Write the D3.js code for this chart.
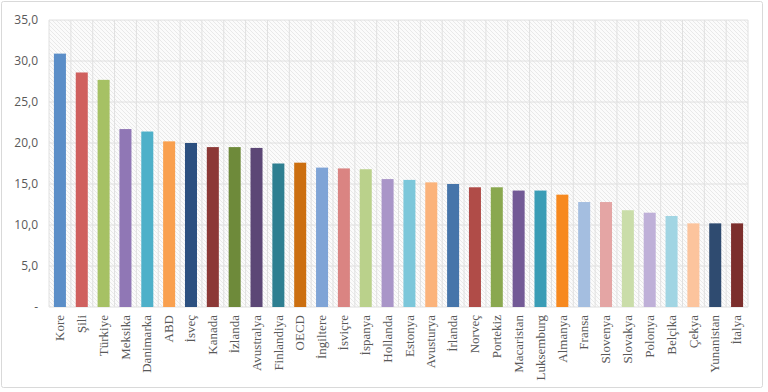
<!DOCTYPE html>
<html><head><meta charset="utf-8">
<script src="https://cdn.jsdelivr.net/npm/d3@7"></script>
<style>body{margin:0;background:#fff}</style>
</head><body>
<svg id="c" width="768" height="392"></svg>
<script>
const categories = ["Kore","Şili","Türkiye","Meksika","Danimarka","ABD","İsveç","Kanada","İzlanda","Avustralya","Finlandiya","OECD","İngiltere","İsviçre","İspanya","Hollanda","Estonya","Avusturya","İrlanda","Norveç","Portekiz","Macaristan","Luksemburg","Almanya","Fransa","Slovenya","Slovakya","Polonya","Belçika","Çekya","Yunanistan","İtalya"];
const values = [30.9,28.6,27.7,21.7,21.4,20.2,20.0,19.5,19.5,19.4,17.5,17.6,17.0,16.9,16.8,15.6,15.5,15.2,15.0,14.6,14.6,14.2,14.2,13.7,12.8,12.8,11.8,11.5,11.1,10.2,10.2,10.2];
const colors = ["#5B8EC8","#D0605E","#A6C164","#9077B5","#4EB0C9","#F9A04F","#2C5080","#8C3836","#6E8A3A","#5C4776","#2E7F91","#CC6F10","#7FA4D6","#DA8482","#BAD18B","#A995C8","#7CC7DA","#FBB37B","#4675AA","#B04C48","#8AA84F","#735A96","#3A9DB6","#F7891F","#A4BEE0","#E4A5A4","#CADDA9","#BFB0D8","#A1D5E3","#FCC49D","#2F4B70","#7C2E2C"];
const yTicks = [0,5,10,15,20,25,30,35];

const svg = d3.select("#c");
const m = {l:49, r:748, t:20, b:307};

svg.append("rect").attr("x",1.5).attr("y",1.5).attr("width",761).attr("height",386)
  .attr("fill","#fff").attr("stroke","#d9d9d9").attr("rx",2);

const defs = svg.append("defs");
const pat = defs.append("pattern").attr("id","hatch").attr("patternUnits","userSpaceOnUse")
  .attr("width",4).attr("height",4);
pat.append("rect").attr("width",4).attr("height",4).attr("fill","#fbfbfb");
pat.append("path").attr("d","M-1,-1 L5,5 M-1,3 L1,5 M3,-1 L5,1").attr("stroke","#e4e4e4").attr("stroke-width",0.8);

const x = d3.scaleBand().domain(categories).range([m.l,m.r]).paddingInner(0.45).paddingOuter(0.225);
const y = d3.scaleLinear().domain([0,35]).range([m.b,m.t]);

svg.append("rect").attr("x",m.l).attr("y",m.t).attr("width",m.r-m.l).attr("height",m.b-m.t).attr("fill","url(#hatch)");

const vg = d3.range(categories.length+1).map(i => m.l + i*(m.r-m.l)/categories.length);
svg.append("g").selectAll("line").data(vg).join("line")
  .attr("x1",d=>d).attr("x2",d=>d).attr("y1",m.t).attr("y2",m.b)
  .attr("stroke","#e0e0e0").attr("stroke-width",1);

svg.append("g").selectAll("line").data(yTicks).join("line")
  .attr("x1",m.l).attr("x2",m.r).attr("y1",d=>y(d)).attr("y2",d=>y(d))
  .attr("stroke","#e0e0e0").attr("stroke-width",1);

svg.append("g").selectAll("rect").data(values).join("rect")
  .attr("x",(d,i)=>x(categories[i])).attr("width",x.bandwidth())
  .attr("y",d=>y(d)).attr("height",d=>y(0)-y(d))
  .attr("fill",(d,i)=>colors[i]);

const yAxis = d3.axisLeft(y).tickValues(yTicks).tickSize(0).tickPadding(11)
  .tickFormat(d => d===0 ? "-" : d3.format(".1f")(d).replace(".",","));
const ya = svg.append("g").attr("transform",`translate(${m.l},0)`).call(yAxis);
ya.select(".domain").remove();
ya.selectAll("text").attr("fill","#595959").style("font-family","'Open Sans', sans-serif").style("font-size","12px");

const xAxis = d3.axisBottom(x).tickSize(0).tickPadding(0);
const xa = svg.append("g").attr("transform",`translate(0,${m.b})`).call(xAxis);
xa.select(".domain").remove();
xa.selectAll("text").attr("fill","#595959").style("font-family","'Liberation Serif', serif").style("font-size","13px")
  .attr("transform","rotate(-90)").attr("text-anchor","end").attr("dy","0.32em").attr("x",-8).attr("y",0);
</script>
</body></html>
